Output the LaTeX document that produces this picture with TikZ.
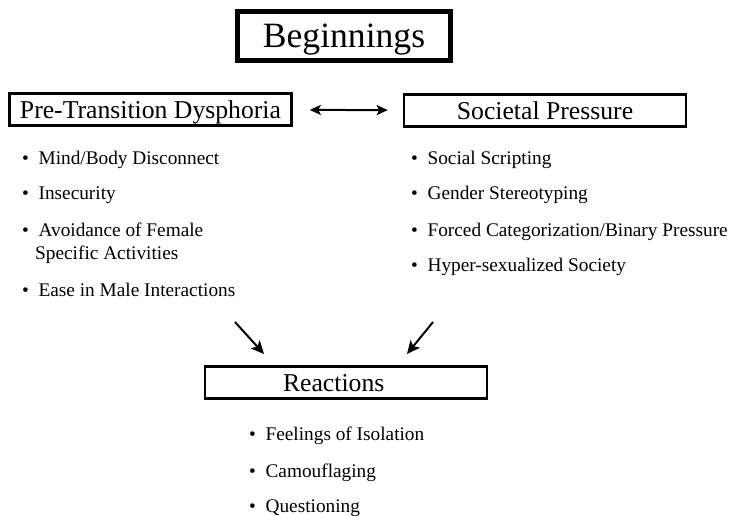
\documentclass[tikz,border=0pt]{standalone}
\usepackage{fontspec}
\setmainfont{Liberation Serif}
\usetikzlibrary{arrows.meta}

\begin{document}
\begin{tikzpicture}[x=1pt,y=-1pt,
  headbox/.style={draw, line width=2.6pt, minimum width=282pt, minimum height=32.5pt,
    inner sep=0pt, text height=17pt, text depth=0pt, font=\fontsize{25.7}{30}\selectfont},
  item/.style={anchor=base west, inner sep=0pt, font=\fontsize{19.3}{23}\selectfont},
  arr/.style={line width=2pt, -{Stealth[length=13pt,width=12pt,inset=3pt]}}]
\useasboundingbox (0,0) rectangle (733,515);

\node[draw, line width=5pt, minimum width=213pt, minimum height=49pt, inner sep=0pt,
  text height=23.5pt, text depth=0pt, font=\fontsize{35.6}{40}\selectfont] (begin) at (344,36) {Beginnings};

\node[headbox] (pre) at (150.5,109.5) {Pre-Transition Dysphoria};
\node[headbox] (soc) at (545,110.5) {Societal Pressure};
\node[headbox] (react) at (346,382.5) {\makebox[126pt][l]{Reactions}};

\draw[line width=2pt, {Stealth[length=11pt,width=10pt,inset=2.5pt]}-{Stealth[length=11pt,width=10pt,inset=2.5pt]},
  shorten <=17pt, shorten >=15pt] (pre) -- (soc);

% left list
\node[item] (mind) at (22,164) {\textbullet\hspace{0.5em}Mind/Body Disconnect};
\node[item] (insec) at (22,199) {\textbullet\hspace{0.5em}Insecurity};
\node[item] (avoid) at (22,236) {\textbullet\hspace{0.5em}Avoidance of Female};
\node[item] (avoidb) at (35,259) {Specific Activities};
\node[item] (ease) at (22,296) {\textbullet\hspace{0.5em}Ease in Male Interactions};

% right list
\node[item] (script) at (411,164) {\textbullet\hspace{0.5em}Social Scripting};
\node[item] (stereo) at (411,199) {\textbullet\hspace{0.5em}Gender Stereotyping};
\node[item] (forced) at (411,236) {\textbullet\hspace{0.5em}Forced Categorization/Binary Pressure};
\node[item] (hyper) at (411,271) {\textbullet\hspace{0.5em}Hyper-sexualized Society};

% arrows down
\coordinate (la) at (235,322);
\coordinate (lb) at (264,354);
\coordinate (ra) at (433,322);
\coordinate (rb) at (407,354);
\draw[arr] (la) -- (lb);
\draw[arr] (ra) -- (rb);

% bottom list
\node[item] (isol) at (249,440) {\textbullet\hspace{0.5em}Feelings of Isolation};
\node[item] (camo) at (249,477) {\textbullet\hspace{0.5em}Camouflaging};
\node[item] (quest) at (249,512) {\textbullet\hspace{0.5em}Questioning};

\end{tikzpicture}
\end{document}
